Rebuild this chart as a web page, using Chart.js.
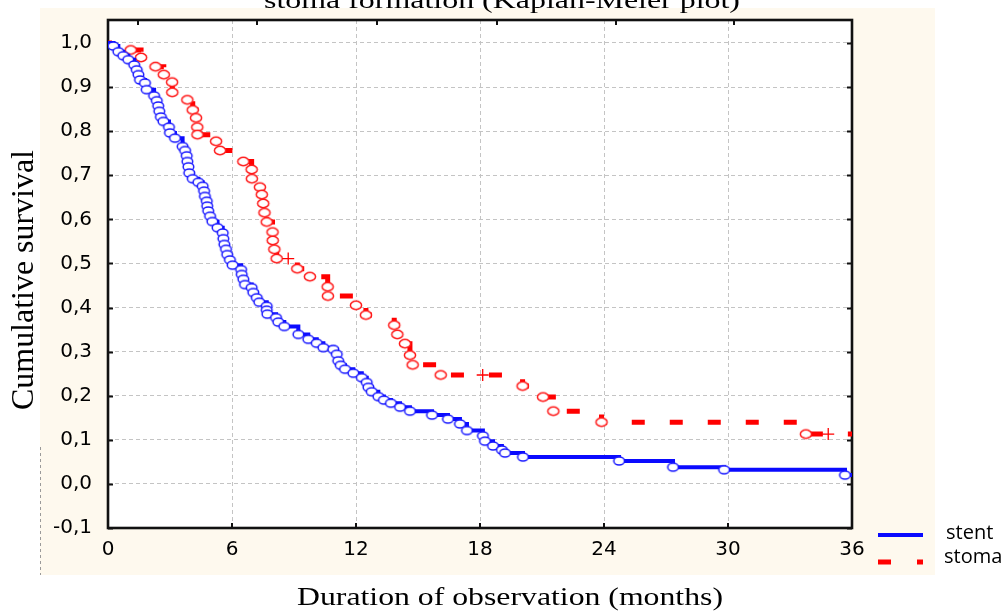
<!DOCTYPE html>
<html><head><meta charset="utf-8">
<script src="https://cdn.jsdelivr.net/npm/chart.js@4.4.0/dist/chart.umd.min.js"></script>
<style>html,body{margin:0;padding:0;background:#fff;overflow:hidden}canvas{display:block}</style>
</head><body>
<canvas id="c" width="1006" height="613" style="width:1006px;height:613px"></canvas>
<script>
const chartTitle = 'stoma formation (Kaplan-Meier plot)';
const xAxisTitle = 'Duration of observation (months)';
const yAxisTitle = 'Cumulative survival';
const seriesLabels = ['stent', 'stoma'];
const xTicks = [0, 6, 12, 18, 24, 30, 36];
const xTickLabels = ['0', '6', '12', '18', '24', '30', '36'];
const yTicks = [-0.1, 0, 0.1, 0.2, 0.3, 0.4, 0.5, 0.6, 0.7, 0.8, 0.9, 1.0];
const yTickLabels = ['-0,1', '0,0', '0,1', '0,2', '0,3', '0,4', '0,5', '0,6', '0,7', '0,8', '0,9', '1,0'];
const topAxisTicks = [1.45, 7.2, 13.0, 18.8, 24.6, 30.3];

// stent group (blue)
const stentTime = [0, 0.26, 0.50, 0.74, 0.98, 1.27, 1.39, 1.47, 1.55, 1.79, 1.87, 2.23, 2.36, 2.43, 2.48, 2.56, 2.68, 2.95, 3.00, 3.24, 3.61, 3.73, 3.81, 3.84, 3.89, 3.93, 4.10, 4.37, 4.58, 4.65, 4.69, 4.78, 4.80, 4.85, 4.94, 5.05, 5.30, 5.55, 5.58, 5.63, 5.71, 5.77, 5.90, 6.03, 6.44, 6.47, 6.55, 6.63, 6.95, 7.03, 7.20, 7.32, 7.68, 7.68, 7.71, 8.13, 8.24, 8.53, 9.21, 9.69, 10.10, 10.42, 10.90, 11.07, 11.14, 11.26, 11.47, 11.87, 12.28, 12.52, 12.60, 12.76, 13.08, 13.35, 13.69, 14.13, 14.61, 15.68, 16.45, 17.03, 17.37, 18.14, 18.24, 18.63, 19.06, 19.21, 20.08, 24.73, 27.34, 29.81, 35.66, 36];
const stentSurv = [1.0, 0.993, 0.980, 0.971, 0.962, 0.950, 0.939, 0.928, 0.916, 0.909, 0.894, 0.880, 0.869, 0.857, 0.845, 0.832, 0.822, 0.809, 0.796, 0.784, 0.765, 0.756, 0.744, 0.731, 0.719, 0.705, 0.692, 0.684, 0.675, 0.664, 0.652, 0.641, 0.630, 0.619, 0.607, 0.595, 0.581, 0.569, 0.556, 0.543, 0.532, 0.520, 0.508, 0.496, 0.486, 0.475, 0.464, 0.452, 0.445, 0.434, 0.422, 0.412, 0.403, 0.394, 0.385, 0.377, 0.367, 0.357, 0.339, 0.328, 0.319, 0.309, 0.305, 0.294, 0.279, 0.269, 0.260, 0.251, 0.241, 0.230, 0.219, 0.209, 0.198, 0.190, 0.183, 0.174, 0.165, 0.156, 0.147, 0.136, 0.121, 0.109, 0.097, 0.086, 0.077, 0.070, 0.061, 0.052, 0.038, 0.032, 0.020, 0.020];
const stentCensored = stentTime.map(() => 0);

// stoma group (red)
const stomaTime = [0, 1.10, 1.60, 2.30, 2.70, 3.10, 3.11, 3.84, 4.10, 4.26, 4.32, 4.33, 5.23, 5.42, 6.55, 6.95, 6.96, 7.35, 7.44, 7.51, 7.57, 7.68, 7.96, 7.97, 8.05, 8.16, 8.72, 9.16, 9.77, 10.63, 10.64, 12.00, 12.48, 13.85, 14.00, 14.37, 14.61, 14.74, 16.10, 18.13, 20.06, 21.05, 21.55, 23.88, 33.77, 34.85, 36];
const stomaSurv = [1.0, 0.984, 0.967, 0.946, 0.928, 0.911, 0.888, 0.871, 0.848, 0.830, 0.809, 0.792, 0.777, 0.756, 0.731, 0.713, 0.692, 0.673, 0.656, 0.636, 0.615, 0.594, 0.571, 0.552, 0.532, 0.511, 0.511, 0.488, 0.470, 0.447, 0.426, 0.405, 0.383, 0.360, 0.339, 0.318, 0.292, 0.270, 0.247, 0.247, 0.222, 0.197, 0.165, 0.140, 0.113, 0.113, 0.113];
const stomaCensored = stomaTime.map((t) => (t === 8.72 || t === 18.13 || t === 34.85) ? 1 : 0);

function makeEllipse(color, rx, ry) {
  const c = document.createElement('canvas');
  c.width = Math.ceil(rx * 2 + 4); c.height = Math.ceil(ry * 2 + 4);
  const g = c.getContext('2d');
  g.beginPath();
  g.ellipse(c.width / 2, c.height / 2, rx, ry, 0, 0, Math.PI * 2);
  g.fillStyle = '#ffffff'; g.fill();
  g.lineWidth = 1.5; g.strokeStyle = color; g.stroke();
  return c;
}
const blueMark = makeEllipse('#1a1aff', 5.3, 4.0);
const redMark = makeEllipse('#ff1a1a', 5.6, 4.2);

function buildDataset(label, times, surv, cens, color, mark, width, dash, dashOffset) {
  const n = times.length;
  return {
    label: label,
    data: times.map((t, i) => ({x: t, y: surv[i]})),
    borderColor: color,
    backgroundColor: color,
    borderWidth: width,
    borderDash: dash,
    borderDashOffset: dashOffset,
    borderCapStyle: 'butt',
    stepped: 'before',
    fill: false,
    pointStyle: (c) => cens[c.dataIndex] ? 'cross' : mark,
    pointRadius: (c) => (c.dataIndex === 0 || c.dataIndex === n - 1) ? 0 : (cens[c.dataIndex] ? 6 : 5),
    pointBorderColor: color,
    pointBackgroundColor: '#ffffff',
    pointBorderWidth: 1.3
  };
}

function stretchText(ctx, text, x, y, font, width, rot) {
  ctx.save();
  ctx.font = font;
  const w = ctx.measureText(text).width;
  ctx.translate(x, y);
  if (rot) ctx.rotate(rot);
  ctx.scale(width / w, 1);
  ctx.textAlign = 'center';
  ctx.textBaseline = 'alphabetic';
  ctx.fillStyle = '#000';
  ctx.fillText(text, 0, 0);
  ctx.restore();
}

const deco = {
  id: 'deco',
  beforeDraw(chart) {
    const {ctx, chartArea: a} = chart;
    ctx.save();
    ctx.fillStyle = '#fef9ee';
    ctx.fillRect(40, 8, 895, 567);
    ctx.fillStyle = '#ffffff';
    ctx.fillRect(a.left, a.top, a.right - a.left, a.bottom - a.top);
    ctx.strokeStyle = '#9a9a9a'; ctx.lineWidth = 1; ctx.setLineDash([3, 3]);
    ctx.beginPath(); ctx.moveTo(40.5, 447); ctx.lineTo(40.5, 575); ctx.stroke();
    ctx.restore();
  },
  beforeDatasetsDraw(chart) {
    const {ctx, chartArea: a, scales} = chart;
    ctx.save();
    ctx.strokeStyle = '#111';
    ctx.lineWidth = 2;
    ctx.beginPath();
    yTicks.forEach(v => {
      const y = Math.round(scales.y.getPixelForValue(v)) + 0.5;
      ctx.moveTo(a.left, y); ctx.lineTo(a.left + 5, y);
      ctx.moveTo(a.right, y); ctx.lineTo(a.right - 5, y);
    });
    xTicks.forEach(v => {
      const x = Math.round(scales.x.getPixelForValue(v));
      ctx.moveTo(x, a.bottom); ctx.lineTo(x, a.bottom - 5);
    });
    topAxisTicks.forEach(v => {
      const x = Math.round(scales.x.getPixelForValue(v));
      ctx.moveTo(x, a.top); ctx.lineTo(x, a.top + 5);
    });
    ctx.stroke();
    ctx.lineWidth = 2.6;
    ctx.strokeRect(a.left, a.top, a.right - a.left, a.bottom - a.top);
    ctx.restore();
  },
  afterDraw(chart) {
    const {ctx} = chart;
    stretchText(ctx, chartTitle, 502, 8, '24px "Liberation Serif"', 476, 0);
    stretchText(ctx, xAxisTitle, 510, 605, '25px "Liberation Serif"', 426, 0);
    stretchText(ctx, yAxisTitle, 33, 280, '32px "Liberation Serif"', 260, -Math.PI / 2);
    const ds = chart.data.datasets;
    ctx.save();
    ctx.lineCap = 'butt';
    ctx.strokeStyle = ds[0].borderColor; ctx.lineWidth = 4;
    ctx.beginPath(); ctx.moveTo(878, 535); ctx.lineTo(923, 535); ctx.stroke();
    ctx.strokeStyle = ds[1].borderColor; ctx.lineWidth = 5;
    ctx.setLineDash([13, 26]);
    ctx.beginPath(); ctx.moveTo(878, 562); ctx.lineTo(923, 562); ctx.stroke();
    ctx.setLineDash([]);
    ctx.fillStyle = '#000';
    ctx.font = '20px "Open Sans"';
    ctx.textAlign = 'left'; ctx.textBaseline = 'middle';
    ctx.fillText(ds[0].label, 946, 533);
    ctx.fillText(ds[1].label, 944, 557);
    ctx.restore();
  }
};

new Chart(document.getElementById('c'), {
  type: 'line',
  data: {
    datasets: [
      buildDataset(seriesLabels[0], stentTime, stentSurv, stentCensored, '#0a0aff', blueMark, 4, [], 0),
      buildDataset(seriesLabels[1], stomaTime, stomaSurv, stomaCensored, '#ff0000', redMark, 5, [13, 25], 9)
    ]
  },
  options: {
    responsive: false,
    animation: false,
    events: [],
    layout: {padding: {left: 0, right: 154, top: 20, bottom: 0}},
    plugins: {legend: {display: false}, tooltip: {enabled: false}, title: {display: false}},
    scales: {
      x: {
        type: 'linear', min: 0, max: 36,
        afterFit: (s) => { s.height = 85; s.paddingLeft = 0; s.paddingRight = 0; },
        afterBuildTicks: (s) => { s.ticks = xTicks.map(v => ({value: v})); },
        ticks: {padding: 10, color: '#000', font: {family: '"DejaVu Sans"', size: 20}, maxRotation: 0,
                callback: (v, i) => xTickLabels[i]},
        grid: {color: '#c4c4c4', lineWidth: 1, drawTicks: false},
        border: {display: false, dash: [4, 3]}
      },
      y: {
        type: 'linear', min: -0.1, max: 1.052,
        afterFit: (s) => { s.width = 108; s.paddingTop = 0; s.paddingBottom = 0; },
        afterBuildTicks: (s) => { s.ticks = yTicks.map(v => ({value: v})); },
        ticks: {padding: 16, color: '#000', font: {family: '"DejaVu Sans"', size: 20},
                callback: (v, i) => yTickLabels[i]},
        grid: {color: '#c4c4c4', lineWidth: 1, drawTicks: false},
        border: {display: false, dash: [4, 3]}
      }
    }
  },
  plugins: [deco]
});
</script>
</body></html>
